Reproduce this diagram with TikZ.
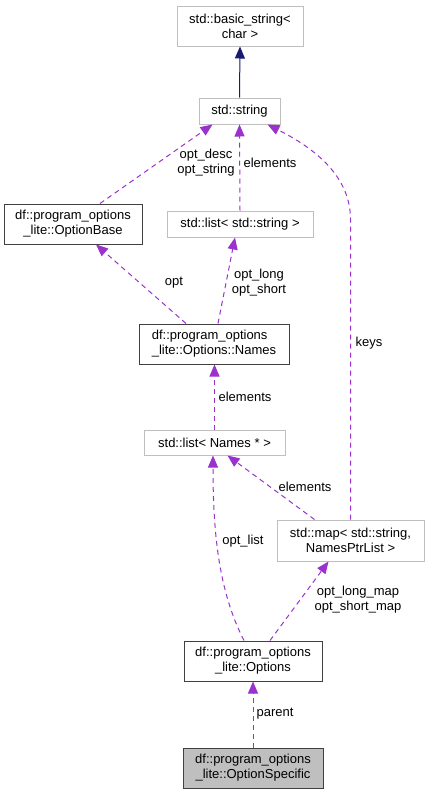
\documentclass[tikz,border=0pt]{standalone}
\usepackage{fontspec}
\setmainfont{Liberation Sans}
\usetikzlibrary{arrows.meta}
\definecolor{edgepurple}{HTML}{9A32CD}
\definecolor{edgenavy}{HTML}{191970}

\begin{document}
\begin{tikzpicture}[x=1pt, y=-1pt, font=\fontsize{13}{15}\selectfont,
  box/.style={draw, line width=1pt, inner sep=0pt, align=center, minimum height=40pt},
  docbox/.style={box, draw=black!75},
  extbox/.style={box, draw=black!25, minimum height=26pt},
  usage/.style={draw=edgepurple, line width=1pt, dash pattern=on 5pt off 4pt, -{Triangle[length=12pt,width=10pt]}},
  inherit/.style={draw=edgenavy, line width=1pt, -{Triangle[length=12pt,width=10pt]}},
  lbl/.style={align=center, inner sep=0pt}]
\useasboundingbox (0,0) rectangle (429,795);
\node[extbox, minimum width=126pt, minimum height=40pt] (basic) at (240,26) {std::basic\_string<\\char >};
\node[extbox, minimum width=81pt] (string) at (239.5,111) {std::string};
\node[docbox, minimum width=138pt] (optbase) at (73,224) {df::program\_options\\\_lite::OptionBase};
\node[extbox, minimum width=146pt] (strlist) at (240,224) {std::list< std::string >};
\node[docbox, minimum width=150pt, align=left] (names) at (214,344) {df::program\_options\\\_lite::Options::Names};
\node[extbox, minimum width=141pt, minimum height=25pt] (nlist) at (214.5,442.5) {std::list< Names * >};
\node[extbox, minimum width=147pt, minimum height=41pt] (map) at (350.5,540.5) {std::map< std::string,\\NamesPtrList >};
\node[docbox, minimum width=138pt] (options) at (253,661) {df::program\_options\\\_lite::Options};
\node[docbox, minimum width=140pt, fill=black!25] (spec) at (253,768) {df::program\_options\\\_lite::OptionSpecific};

\draw[inherit] (string.north) -- (basic.south);
\draw[usage] ([xshift=27pt]optbase.north) -- ([xshift=-27pt]string.south);
\draw[usage] (strlist.north) -- (string.south);
\draw[usage] (map.north) -- ++(0,-300) .. controls (350.5,178) and (318,150) .. ([xshift=28pt]string.south);
\draw[usage] ([xshift=-28pt]names.north) -- ([xshift=23pt]optbase.south);
\draw[usage] ([xshift=4pt]names.north) -- ([xshift=-5pt]strlist.south);
\draw[usage] (nlist.north) -- (nlist.north |- names.south);
\draw[usage] ([xshift=-36pt]map.north) -- ([xshift=13pt]nlist.south);
\draw[usage] ([xshift=-9pt]options.north) .. controls (218,590) and (213,530) .. ([xshift=-1.5pt]nlist.south);
\draw[usage] ([xshift=17pt]options.north) -- ([xshift=-22pt]map.south);
\draw[usage] (spec.north) -- (options.south);

\node[lbl] (ldesc) at (206,163) {opt\_desc\\opt\_string};
\node[lbl] (lelems) at (270,163) {elements};
\node[lbl] (lkeys) at (369,343) {keys};
\node[lbl] (lopt) at (174,283) {opt};
\node[lbl] (lshort) at (259,283) {opt\_long\\opt\_short};
\node[lbl] (lnames) at (245,397) {elements};
\node[lbl] (lmapel) at (305,487) {elements};
\node[lbl] (llist) at (243,541) {opt\_list};
\node[lbl] (lmap) at (358,600) {opt\_long\_map\\opt\_short\_map};
\node[lbl] (lparent) at (275,714) {parent};
\end{tikzpicture}
\end{document}
